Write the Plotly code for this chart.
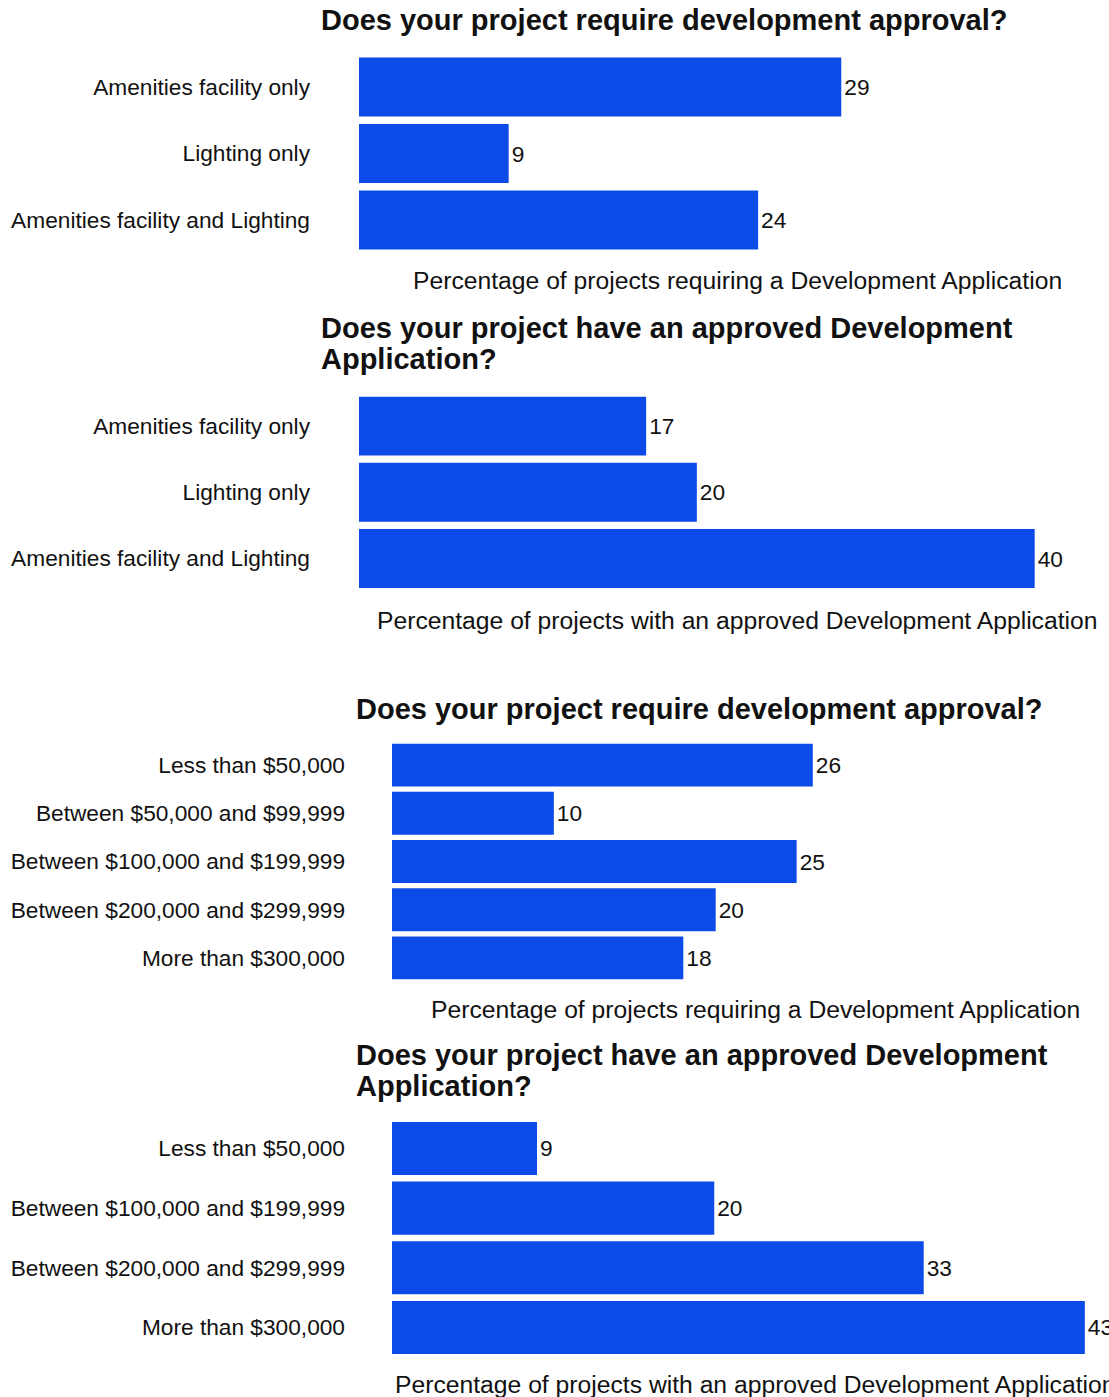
import plotly.graph_objects as go

# ---- data -------------------------------------------------------------
facility_types = ["Amenities facility only", "Lighting only", "Amenities facility and Lighting"]
facility_requires_da = [29, 9, 24]
facility_approved_da = [17, 20, 40]

cost_bands_requires = [
    "Less than $50,000",
    "Between $50,000 and $99,999",
    "Between $100,000 and $199,999",
    "Between $200,000 and $299,999",
    "More than $300,000",
]
cost_requires_da = [26, 10, 25, 20, 18]

cost_bands_approved = [
    "Less than $50,000",
    "Between $100,000 and $199,999",
    "Between $200,000 and $299,999",
    "More than $300,000",
]
cost_approved_da = [9, 20, 33, 43]

title_require = "Does your project require development approval?"
title_approved = ["Does your project have an approved Development", "Application?"]
xlabel_require = "Percentage of projects requiring a Development Application"
xlabel_approved = "Percentage of projects with an approved Development Application"

# ---- layout helpers -----------------------------------------------------
W, H = 1109, 1397
FONT = "Liberation Sans, Arial, Helvetica, sans-serif"
BAR = "#0c4be8"


def px_x(x):
    return x / W


def px_y(y):
    return 1 - y / H


fig = go.Figure()

panels = [
    # categories, values, plot left, top, bottom, x max, label standoff
    (facility_types, facility_requires_da, 359, 53.75, 253.25, 45.1, 48),
    (facility_types, facility_approved_da, 359, 393.0, 591.6, 44.4, 48),
    (cost_bands_requires, cost_requires_da, 392, 741.0, 982.0, 44.3, 46),
    (cost_bands_approved, cost_approved_da, 392, 1118.6, 1357.3, 44.5, 46),
]

for i, (cats, vals, left, top, bottom, xmax, standoff) in enumerate(panels, start=1):
    sfx = "" if i == 1 else str(i)
    fig.add_trace(go.Bar(
        x=vals, y=cats, orientation="h",
        marker=dict(color=BAR, line=dict(width=0)),
        text=[str(v) for v in vals], textposition="outside",
        textfont=dict(family=FONT, size=22.7, color="#111111"),
        constraintext="none", cliponaxis=False,
        xaxis="x" + sfx, yaxis="y" + sfx, showlegend=False,
        hoverinfo="x+y",
    ))
    fig.layout["xaxis" + sfx] = dict(
        domain=[px_x(left), 1], range=[0, xmax], anchor="y" + sfx,
        showgrid=False, zeroline=False, showline=False,
        showticklabels=False, ticks="", fixedrange=True,
    )
    fig.layout["yaxis" + sfx] = dict(
        domain=[px_y(bottom), px_y(top)], anchor="x" + sfx,
        autorange="reversed", type="category",
        showgrid=False, zeroline=False, showline=False, ticks="",
        ticklabelstandoff=standoff,
        tickfont=dict(family=FONT, size=22.7, color="#111111"),
        fixedrange=True,
    )

annotations = []


def add_text(text, x, y, size, anchor="left", bold=False):
    annotations.append(dict(
        text=f"<b>{text}</b>" if bold else text,
        x=px_x(x), y=px_y(y), xref="paper", yref="paper",
        xanchor=anchor, yanchor="middle", showarrow=False,
        font=dict(family=FONT, size=size, color="#111111"),
    ))


# panel titles
add_text(title_require, 319, 20, 29, bold=True)
add_text(title_approved[0], 319, 328, 29, bold=True)
add_text(title_approved[1], 319, 359, 29, bold=True)
add_text(title_require, 354, 709, 29, bold=True)
add_text(title_approved[0], 354, 1055, 29, bold=True)
add_text(title_approved[1], 354, 1086, 29, bold=True)

# axis captions under each panel
add_text(xlabel_require, 737, 281, 24.7, anchor="center")
add_text(xlabel_approved, 737, 620, 24.7, anchor="center")
add_text(xlabel_require, 755, 1009, 24.7, anchor="center")
add_text(xlabel_approved, 755, 1384, 24.7, anchor="center")

fig.update_layout(
    width=W, height=H,
    margin=dict(l=0, r=0, t=0, b=0, pad=0),
    paper_bgcolor="white", plot_bgcolor="white",
    bargap=0.11,
    annotations=annotations,
    font=dict(family=FONT, color="#111111"),
)

fig.write_html("out.html", config={"displayModeBar": False})
